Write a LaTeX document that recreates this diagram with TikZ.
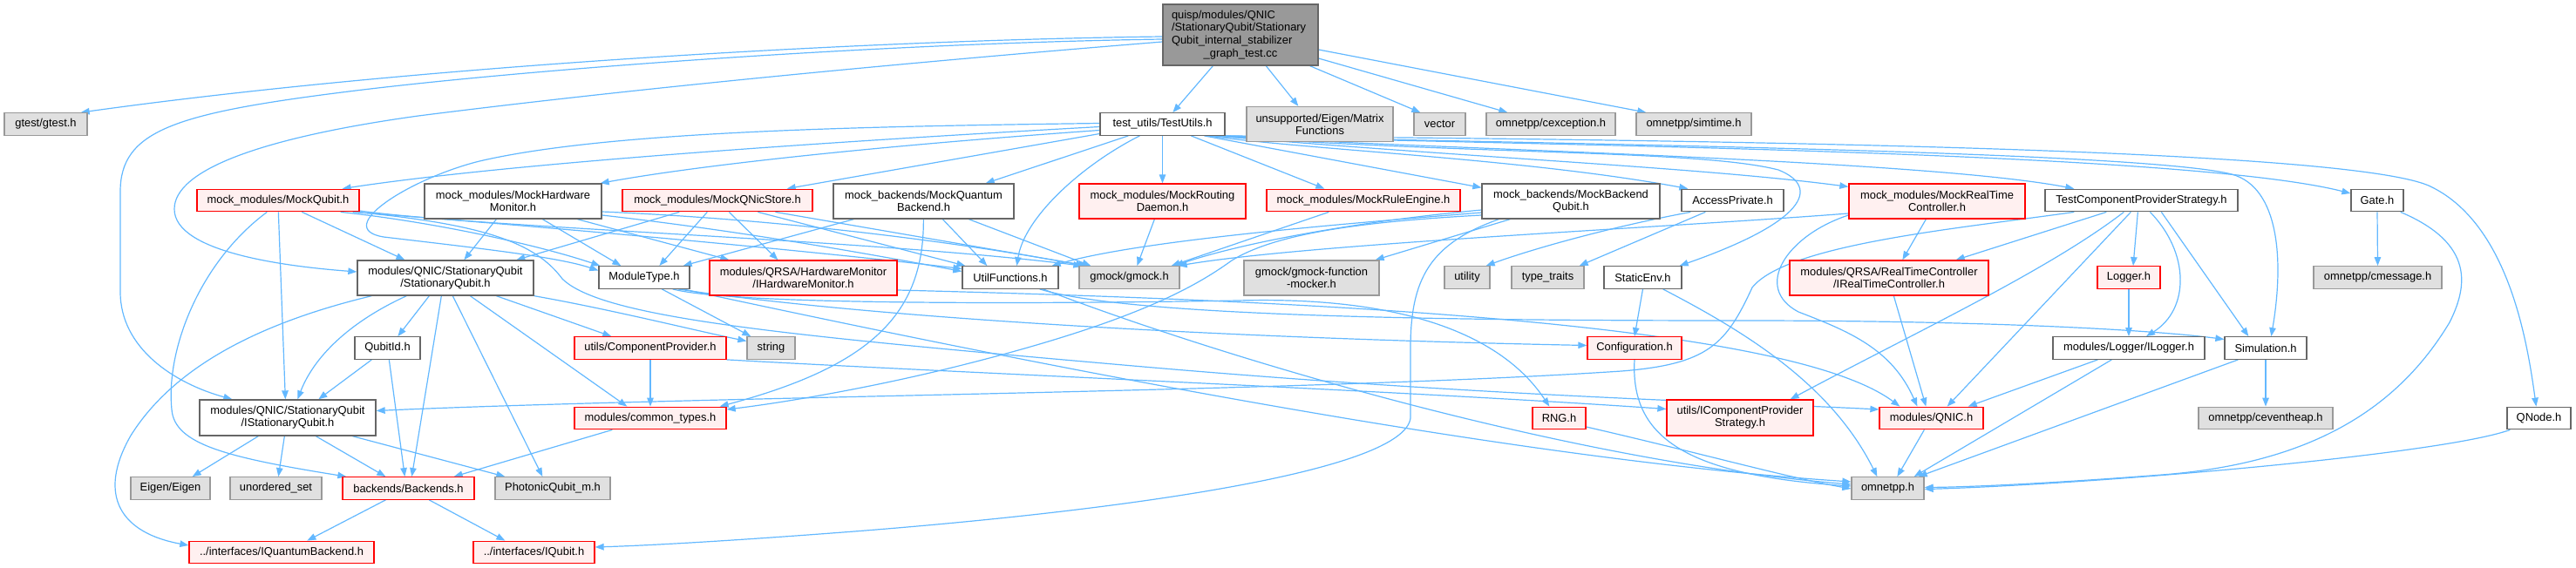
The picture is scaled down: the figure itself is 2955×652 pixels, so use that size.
\documentclass[tikz,border=0pt]{standalone}
\usepackage{fontspec}
\setmainfont{Liberation Sans}
\usetikzlibrary{arrows.meta}
\definecolor{edgec}{HTML}{63B8FF}
\definecolor{redfill}{HTML}{FFF0F0}
\definecolor{grayfill}{HTML}{E0E0E0}
\definecolor{graybd}{HTML}{999999}
\definecolor{darkbd}{HTML}{666666}
\definecolor{mainfill}{HTML}{999999}
\pgfdeclarelayer{bg}
\pgfsetlayers{bg,main}
\newcommand{\fs}{\fontsize{12.9}{14.1}\selectfont}
\tikzset{
 nb/.style={rectangle, inner sep=0pt, line width=1.3pt, font=\fs, text=black, minimum height=25.5pt, align=center},
 wb/.style={nb, draw=darkbd, fill=white},
 rb/.style={nb, draw=red, fill=redfill},
 gb/.style={nb, draw=graybd, fill=grayfill},
 two/.style={minimum height=40pt},
 ln/.style={draw=edgec, line width=1.2pt, -{Triangle[length=10pt,width=7.5pt]}},
}
\begin{document}
\begin{tikzpicture}[x=1pt,y=-1pt]
\useasboundingbox (0,0) rectangle (2955,652);
% main
\node[draw=darkbd, fill=mainfill, line width=1.3pt, font=\fontsize{12.9}{14.7}\selectfont, align=left, text width=158pt, inner xsep=10pt, inner ysep=0pt, minimum height=70pt] (main) at (1423,40) {quisp/modules/QNIC\\/StationaryQubit/Stationary\\Qubit\_internal\_stabilizer\\\makebox[158pt][c]{\_graph\_test.cc}};
% row 1
\node[gb, minimum width=95] (gtest) at (52.5,142.5) {gtest/gtest.h};
\node[wb, minimum width=143] (tu) at (1333.5,142.5) {test\_utils/TestUtils.h};
\node[gb, two, minimum width=168] (mf) at (1514,142.5) {unsupported/Eigen/Matrix\\Functions};
\node[gb, minimum width=59] (vec) at (1651.5,142.5) {vector};
\node[gb, minimum width=148] (cexc) at (1779,142.5) {omnetpp/cexception.h};
\node[gb, minimum width=132] (simt) at (1943,142.5) {omnetpp/simtime.h};
% row 2
\node[rb, minimum width=186] (mq) at (319,230) {mock\_modules/MockQubit.h};
\node[wb, two, minimum width=203] (mhw) at (588.5,231) {mock\_modules/MockHardware\\Monitor.h};
\node[rb, minimum width=218] (mqns) at (823,230) {mock\_modules/MockQNicStore.h};
\node[wb, two, minimum width=207] (mqb) at (1059.5,231) {mock\_backends/MockQuantum\\Backend.h};
\node[rb, two, minimum width=191] (mrd) at (1333.5,231) {mock\_modules/MockRouting\\Daemon.h};
\node[rb, minimum width=222] (mre) at (1564,230) {mock\_modules/MockRuleEngine.h};
\node[wb, two, minimum width=204] (mbq) at (1802,231) {mock\_backends/MockBackend\\Qubit.h};
\node[wb, minimum width=117] (ap) at (1987.5,230) {AccessPrivate.h};
\node[rb, two, minimum width=202] (mrtc) at (2222,231) {mock\_modules/MockRealTime\\Controller.h};
\node[wb, minimum width=221] (tcps) at (2456.5,230) {TestComponentProviderStrategy.h};
\node[wb, minimum width=60] (gate) at (2727,230) {Gate.h};
% row 3
\node[wb, two, minimum width=202] (sq) at (511,319) {modules/QNIC/StationaryQubit\\/StationaryQubit.h};
\node[wb, minimum width=104] (mt) at (739,318.5) {ModuleType.h};
\node[rb, two, minimum width=215] (ihm) at (921.5,319) {modules/QRSA/HardwareMonitor\\/IHardwareMonitor.h};
\node[wb, minimum width=110] (uf) at (1159,318.5) {UtilFunctions.h};
\node[gb, minimum width=115] (gm) at (1295.5,318.5) {gmock/gmock.h};
\node[gb, two, minimum width=155] (gfm) at (1504.5,319) {gmock/gmock-function\\-mocker.h};
\node[gb, minimum width=52] (util) at (1683,318.5) {utility};
\node[gb, minimum width=83] (tt) at (1775.5,318.5) {type\_traits};
\node[wb, minimum width=89] (se) at (1884.5,318.5) {StaticEnv.h};
\node[rb, two, minimum width=228] (irtc) at (2167,319) {modules/QRSA/RealTimeController\\/IRealTimeController.h};
\node[rb, minimum width=72] (lg) at (2442,318.5) {Logger.h};
\node[gb, minimum width=147] (cmsg) at (2727.5,318.5) {omnetpp/cmessage.h};
% row 4
\node[wb, minimum width=75] (qid) at (444.5,399.5) {QubitId.h};
\node[rb, minimum width=174] (cp) at (746,399.5) {utils/ComponentProvider.h};
\node[gb, minimum width=55] (str) at (884.5,399.5) {string};
\node[rb, minimum width=108] (conf) at (1875,399.5) {Configuration.h};
\node[wb, minimum width=174] (ilg) at (2442,399.5) {modules/Logger/ILogger.h};
\node[wb, minimum width=94] (sim) at (2599,399.5) {Simulation.h};
% row 5
\node[wb, two, minimum width=202, minimum height=41] (isq) at (330,479.5) {modules/QNIC/StationaryQubit\\/IStationaryQubit.h};
\node[rb, minimum width=174] (ct) at (746,480) {modules/common\_types.h};
\node[rb, minimum width=61] (rng) at (1788.5,480) {RNG.h};
\node[rb, two, minimum width=168, minimum height=41] (icps) at (1996,479.5) {utils/IComponentProvider\\Strategy.h};
\node[rb, minimum width=119] (qnic) at (2215.5,480) {modules/QNIC.h};
\node[gb, minimum width=154] (ceh) at (2599,480) {omnetpp/ceventheap.h};
\node[wb, minimum width=73] (qn) at (2912.5,480) {QNode.h};
% row 6
\node[gb, minimum width=91] (eig) at (195.5,560.5) {Eigen/Eigen};
\node[gb, minimum width=105] (us) at (316.5,560.5) {unordered\_set};
\node[rb, minimum width=151] (be) at (468.5,560.5) {backends/Backends.h};
\node[gb, minimum width=132] (pq) at (634,560.5) {PhotonicQubit\_m.h};
\node[gb, minimum width=83] (omn) at (2165.5,560.5) {omnetpp.h};
% row 7
\node[rb, minimum width=212] (iqb) at (323,634) {../interfaces/IQuantumBackend.h};
\node[rb, minimum width=139] (iq) at (612.5,634) {../interfaces/IQubit.h};

\begin{pgfonlayer}{bg}
% main
\draw[ln] ([yshift=-2]main.west) .. controls (1000,46) and (480,75) .. ([xshift=-8]gtest.north east);
\draw[ln] ([yshift=-5]main.west) .. controls (1000,50) and (600,80) .. (400,105) .. controls (200,130) and (138,150) .. (138,220) -- (138,335) .. controls (138,400) and (200,440) .. ([xshift=38]isq.north west);
\draw[ln] ([yshift=-8]main.west) .. controls (1000,75) and (700,105) .. (480,133) .. controls (300,158) and (200,195) .. (200,240) .. controls (200,290) and (330,306) .. ([yshift=7]sq.west);
\draw[ln] ([xshift=58]main.south west) -- ([xshift=84]tu.north west);
\draw[ln] ([xshift=119]main.south west) -- ([xshift=60]mf.north west);
\draw[ln] ([xshift=-10]main.south east) -- ([xshift=8]vec.north west);
\draw[ln] ([yshift=-27]main.east) -- ([xshift=25]cexc.north west);
\draw[ln] ([yshift=-17]main.east) -- ([xshift=12]simt.north west);
% TestUtils
\draw[ln] ([yshift=-3]tu.west) .. controls (1000,160) and (600,185) .. ([xshift=-20]mq.north east);
\draw[ln] ([yshift=-7]tu.west) .. controls (1000,168) and (800,190) .. ([xshift=-2]mhw.north east);
\draw[ln] ([yshift=-11]tu.west) -- ([xshift=-30]mqns.north east);
\draw[ln] ([yshift=1]tu.west) .. controls (1000,145) and (700,150) .. (550,185) .. controls (470,205) and (380,262) .. (440,272) .. controls (550,285) and (640,295) .. ([yshift=8]mt.west);
\draw[ln] ([xshift=33]tu.south west) -- ([xshift=-33]mqb.north east);
\draw[ln] ([xshift=46]tu.south west) .. controls (1240,190) and (1175,250) .. ([xshift=63]uf.north west);
\draw[ln] (tu.south) -- (mrd.north);
\draw[ln] ([xshift=105]tu.south west) -- ([xshift=67]mre.north west);
\draw[ln] ([xshift=120]tu.south west) -- ([yshift=-5]mbq.north west);
\draw[ln] ([xshift=124]tu.south west) .. controls (1500,172) and (1750,182) .. ([xshift=8]ap.north west);
\draw[ln] ([xshift=128]tu.south west) .. controls (1700,178) and (1950,172) .. (2040,195) .. controls (2090,215) and (2070,255) .. ([xshift=-3]se.north east);
\draw[ln] ([xshift=132]tu.south west) .. controls (1700,182) and (1950,192) .. ([yshift=-4]mrtc.north west);
\draw[ln] ([xshift=-4]tu.south east) .. controls (1600,170) and (2200,182) .. ([xshift=34]tcps.north west);
\draw[ln] ([xshift=-2]tu.south east) .. controls (1700,166) and (2500,172) .. ([yshift=8]gate.west);
\draw[ln] ([xshift=-1]tu.south east) .. controls (1700,164) and (2450,172) .. (2560,200) .. controls (2615,215) and (2620,300) .. ([xshift=54]sim.north west);
\draw[ln] (tu.south east) .. controls (1800,160) and (2700,166) .. (2790,215) .. controls (2880,260) and (2900,400) .. ([xshift=34]qn.north west);
% MockQubit
\draw[ln] ([xshift=121]mq.south west) -- ([xshift=55]sq.north west);
\draw[ln] ([xshift=94]mq.south west) -- ([xshift=99]isq.north west);
\draw[ln] ([xshift=81]mq.south west) .. controls (230,300) and (190,400) .. (197,470) .. controls (200,510) and (260,525) .. ([xshift=5]be.north west);
\draw[ln] ([xshift=-22]mq.south east) .. controls (500,255) and (620,282) .. ([xshift=2]mt.north west);
\draw[ln] ([xshift=-8]mq.south east) .. controls (650,262) and (950,290) .. ([yshift=10]uf.west);
\draw[ln] ([yshift=-12]mq.east) .. controls (560,262) and (1000,275) .. ([xshift=4]gm.north west);
\draw[ln] ([xshift=-4]mq.south east) .. controls (560,258) and (615,280) .. (645,320) .. controls (690,365) and (900,385) .. (1300,420) .. controls (1700,455) and (2000,462) .. ([yshift=10]qnic.west);
% MockHardwareMonitor
\draw[ln] ([xshift=83]mhw.south west) -- ([xshift=123]sq.north west);
\draw[ln] ([xshift=136]mhw.south west) -- ([xshift=26]mt.north west);
\draw[ln] ([xshift=176]mhw.south west) -- ([xshift=23]ihm.north west);
\draw[ln] ([yshift=-16]mhw.east) .. controls (850,265) and (1000,292) .. ([yshift=7]uf.west);
\draw[ln] ([yshift=-12]mhw.east) .. controls (900,252) and (1100,278) .. ([xshift=7]gm.north west);
% MockQNicStore
\draw[ln] ([xshift=66]mqns.south west) -- ([xshift=183]sq.north west);
\draw[ln] ([xshift=98]mqns.south west) -- ([xshift=70]mt.north west);
\draw[ln] ([xshift=123]mqns.south west) -- ([xshift=79]ihm.north west);
\draw[ln] ([xshift=156]mqns.south west) -- ([xshift=4]uf.north west);
\draw[ln] ([xshift=176]mqns.south west) -- ([xshift=10]gm.north west);
% MockQuantumBackend
\draw[ln] ([xshift=24]mqb.south west) -- ([xshift=-8]mt.north east);
\draw[ln] ([xshift=104]mqb.south west) .. controls (1060,360) and (1000,420) .. ([xshift=-8]ct.north east);
\draw[ln] ([xshift=126]mqb.south west) -- ([xshift=29]uf.north west);
\draw[ln] ([xshift=156]mqb.south west) -- ([xshift=14]gm.north west);
% MockRoutingDaemon, MockRuleEngine
\draw[ln] ([xshift=87]mrd.south west) -- ([xshift=67]gm.north west);
\draw[ln] ([xshift=72]mre.south west) -- ([xshift=-10]gm.north east);
% MockBackendQubit
\draw[ln] ([xshift=33]mbq.south west) -- ([xshift=-5]gfm.north east);
\draw[ln] ([xshift=20]mbq.south west) .. controls (1640,280) and (1618,320) .. (1618,400) -- (1618,480) .. controls (1610,540) and (1300,585) .. (980,610) .. controls (850,620) and (750,626) .. ([yshift=6]iq.east);
\draw[ln] ([yshift=-10]mbq.west) .. controls (1550,255) and (1420,280) .. ([xshift=-6]gm.north east);
\draw[ln] ([yshift=-13]mbq.west) .. controls (1500,260) and (1300,278) .. ([xshift=-8]uf.north east);
\draw[ln] ([yshift=-16]mbq.west) .. controls (1550,255) and (1460,270) .. (1413,299) .. controls (1370,330) and (1300,370) .. (1100,420) .. controls (1000,445) and (900,462) .. ([yshift=10]ct.east);
% AccessPrivate
\draw[ln] ([xshift=11]ap.south west) .. controls (1850,260) and (1760,285) .. ([xshift=-5]util.north east);
\draw[ln] ([xshift=28]ap.south west) -- ([xshift=-6]tt.north east);
% MockRealTimeController
\draw[ln] ([xshift=89]mrtc.south west) -- ([xshift=130]irtc.north west);
\draw[ln] ([yshift=-16]mrtc.west) .. controls (2050,270) and (2010,330) .. (2063,358) .. controls (2120,380) and (2170,400) .. ([xshift=44]qnic.north west);
\draw[ln] ([yshift=-14]mrtc.west) .. controls (1900,262) and (1500,280) .. ([xshift=-2]gm.north east);
% TestComponentProviderStrategy
\draw[ln] ([xshift=34]tcps.south west) .. controls (2250,262) and (2050,280) .. (2010,330) .. controls (1980,395) and (1960,418) .. (1860,426) .. controls (1500,450) and (800,455) .. ([yshift=8]isq.east);
\draw[ln] ([xshift=91]tcps.south west) .. controls (2350,310) and (2200,380) .. ([xshift=-27]icps.north east);
\draw[ln] ([xshift=71]tcps.south west) -- ([xshift=-38]irtc.north east);
\draw[ln] ([xshift=99]tcps.south west) -- ([xshift=-42]qnic.north east);
\draw[ln] ([xshift=107]tcps.south west) -- ([xshift=5]lg.north);
\draw[ln] ([xshift=121]tcps.south west) .. controls (2512,290) and (2512,355) .. ([xshift=20]ilg.north);
\draw[ln] ([xshift=134]tcps.south west) -- ([xshift=28]sim.north west);
% Gate, QNode, Simulation
\draw[ln] (gate.south) -- (cmsg.north);
\draw[ln] ([xshift=-4]gate.south east) .. controls (2840,280) and (2830,330) .. (2810,370) .. controls (2750,470) and (2650,532) .. (2480,545) .. controls (2350,555) and (2260,559) .. ([yshift=1]omn.east);
\draw[ln] ([xshift=4]qn.south west) .. controls (2800,522) and (2400,556) .. ([yshift=-1]omn.east);
\draw[ln] (sim.south) -- (ceh.north);
\draw[ln] ([xshift=16]sim.south west) -- ([xshift=-7]omn.north east);
% Logger, ILogger, IRTC, QNIC
\draw[ln] (lg.south) -- (ilg.north);
\draw[ln] ([xshift=52]ilg.south west) -- ([xshift=-18]qnic.north east);
\draw[ln] ([xshift=68]ilg.south west) -- ([xshift=-12]omn.north east);
\draw[ln] ([xshift=120]irtc.south west) -- ([xshift=54]qnic.north west);
\draw[ln] ([xshift=52]qnic.south west) -- ([xshift=53]omn.north west);
% StaticEnv, Configuration, RNG
\draw[ln] (se.south) -- (conf.north);
\draw[ln] ([xshift=-22]se.south east) .. controls (2000,380) and (2100,440) .. ([xshift=30]omn.north west);
\draw[ln] (conf.south) .. controls (1870,500) and (1930,545) .. ([yshift=2.5]omn.west);
\draw[ln] ([yshift=-10]rng.east) .. controls (1950,520) and (2050,548) .. ([yshift=-0.5]omn.west);
% ComponentProvider
\draw[ln] (cp.south) -- (ct.north);
\draw[ln] (cp.south east) .. controls (1100,428) and (1600,448) .. ([yshift=10]icps.west);
% ModuleType
\draw[ln] ([xshift=73]mt.south west) -- ([xshift=5]str.north west);
\draw[ln] ([xshift=-20]mt.south east) .. controls (850,352) and (1250,348) .. (1420,345) .. controls (1600,340) and (1720,380) .. ([xshift=20]rng.north west);
\draw[ln] ([xshift=-14]mt.south east) .. controls (1000,365) and (1400,388) .. ([yshift=3]conf.west);
\draw[ln] ([xshift=-8]mt.south east) .. controls (1100,400) and (1700,525) .. ([yshift=7.5]omn.west);
% UtilFunctions
\draw[ln] ([xshift=-22]uf.south east) .. controls (1300,365) and (1700,368) .. (2000,368) .. controls (2300,368) and (2480,380) .. ([yshift=10]sim.west);
\draw[ln] ([xshift=-18]uf.south east) .. controls (1400,410) and (1800,530) .. ([yshift=4.5]omn.west);
% IHardwareMonitor
\draw[ln] ([yshift=-14]ihm.east) .. controls (1500,345) and (2050,370) .. ([xshift=24]qnic.north west);
% StationaryQubit
\draw[ln] ([xshift=83]sq.south west) -- ([xshift=50]qid.north west);
\draw[ln] ([xshift=57]sq.south west) .. controls (400,370) and (360,410) .. ([xshift=113]isq.north west);
\draw[ln] ([xshift=17]sq.south west) .. controls (300,370) and (200,420) .. (150,500) .. controls (110,570) and (140,612) .. ([yshift=8]iqb.west);
\draw[ln] ([xshift=97]sq.south west) -- ([xshift=80]be.north west);
\draw[ln] ([xshift=110]sq.south west) -- ([xshift=55]pq.north west);
\draw[ln] ([xshift=130]sq.south west) -- ([xshift=61]ct.north west);
\draw[ln] ([xshift=160]sq.south west) -- ([xshift=43]cp.north west);
\draw[ln] (sq.south east) .. controls (700,355) and (800,380) .. ([yshift=8]str.west);
% QubitId
\draw[ln] ([xshift=20]qid.south west) -- ([xshift=137]isq.north west);
\draw[ln] ([xshift=40]qid.south west) -- ([xshift=72]be.north west);
% IStationaryQubit
\draw[ln] ([xshift=68]isq.south west) -- ([xshift=-21]eig.north east);
\draw[ln] ([xshift=98]isq.south west) -- ([xshift=56]us.north west);
\draw[ln] ([xshift=134]isq.south west) -- ([xshift=50]be.north west);
\draw[ln] ([xshift=176]isq.south west) -- ([xshift=12]pq.north west);
% common_types, Backends
\draw[ln] ([xshift=44]ct.south west) -- ([xshift=-24]be.north east);
\draw[ln] ([xshift=50]be.south west) -- ([xshift=136]iqb.north west);
\draw[ln] ([xshift=100]be.south west) -- ([xshift=37]iq.north west);
\end{pgfonlayer}
\end{tikzpicture}
\end{document}
